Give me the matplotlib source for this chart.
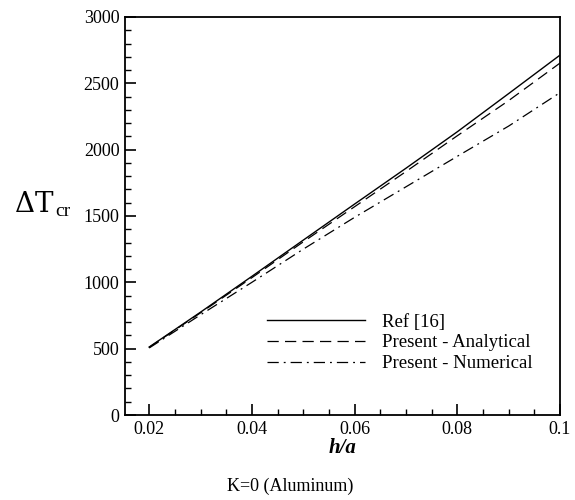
import matplotlib.pyplot as plt
from matplotlib.ticker import MultipleLocator

plt.rcParams["font.family"] = ["Liberation Serif", "DejaVu Serif"]

h_a = [0.02, 0.03, 0.04, 0.05, 0.06, 0.07, 0.08, 0.09, 0.1]
ref16 = [512, 775, 1045, 1318, 1590, 1860, 2135, 2423, 2713]
analytical = [510, 770, 1035, 1305, 1570, 1835, 2105, 2370, 2653]
numerical = [505, 755, 1000, 1250, 1490, 1720, 1950, 2178, 2430]

fig = plt.figure(figsize=(5.75, 5.0), dpi=100)
ax = fig.add_axes([0.2174, 0.17, 0.7566, 0.796])

ax.plot(h_a, ref16, color="black", lw=1.0, ls="-", label="Ref [16]")
ax.plot(h_a, analytical, color="black", lw=0.9, ls=(0, (9, 5)), label="Present - Analytical")
ax.plot(h_a, numerical, color="black", lw=0.9, ls=(0, (9, 4, 1.5, 4)), label="Present - Numerical")

ax.set_xlim(0.0153, 0.1)
ax.set_ylim(0, 3000)
ax.xaxis.set_major_locator(MultipleLocator(0.02))
ax.xaxis.set_minor_locator(MultipleLocator(0.005))
ax.yaxis.set_major_locator(MultipleLocator(500))
ax.yaxis.set_minor_locator(MultipleLocator(100))
ax.set_xticks([0.02, 0.04, 0.06, 0.08, 0.1])
ax.set_xticklabels(["0.02", "0.04", "0.06", "0.08", "0.1"])
ax.tick_params(which="major", direction="in", length=8, width=1.2, labelsize=13, pad=4)
ax.tick_params(which="minor", direction="in", length=4, width=1.0)
ax.tick_params(top=False, right=False, which="both")
for s in ax.spines.values():
    s.set_linewidth(1.3)

ax.set_xlabel("h/a", fontsize=15, fontweight="bold", style="italic", labelpad=0)
fig.text(0.025, 0.59, r"$\Delta$T", fontsize=20, ha="left", va="center",
         family=["DejaVu Serif"], math_fontfamily="dejavuserif")
fig.text(0.096, 0.578, "cr", fontsize=14, ha="left", va="center")

ax.legend(loc="lower right", bbox_to_anchor=(0.975, 0.065), frameon=False,
          fontsize=13.5, handlelength=5.2, handletextpad=0.9, labelspacing=0.2)

fig.text(0.505, 0.027, "K=0 (Aluminum)", fontsize=13, ha="center", va="center")

fig.savefig("out.png", dpi=100)
